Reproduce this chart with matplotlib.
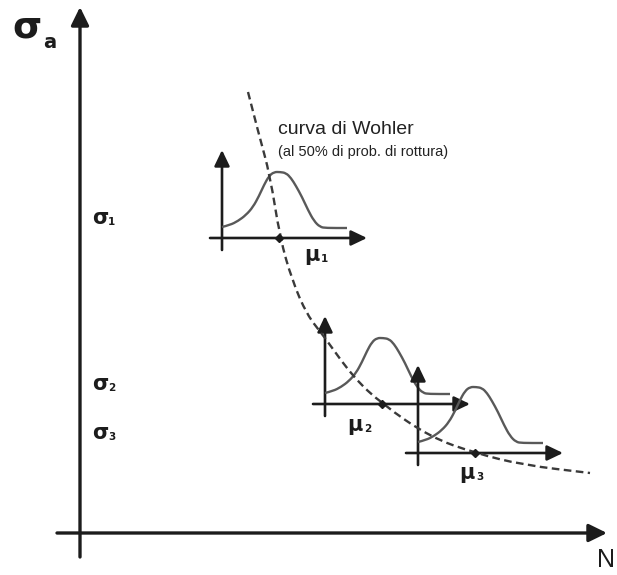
import matplotlib
matplotlib.use('Agg')
import matplotlib.pyplot as plt
from matplotlib.path import Path
from matplotlib.patches import PathPatch
import numpy as np

plt.rcParams['lines.scale_dashes'] = False

# stress levels and mean lives (50% failure) of the three test series
stress_levels = [295, 129, 80]
mean_lives = [199, 302, 395]
sigma_labels = ['1', '2', '3']

# Wohler curve read as (life, stress) points
wohler_n = [168, 179, 190, 200, 212, 227, 243, 273, 302, 350, 395, 443, 510]
wohler_s = [441, 398, 358, 295, 253, 218, 198, 156, 129, 96, 80, 68, 60]

# scatter of life at one stress level: density profile, relative to the
# small axes origin of each series
density_dx = [0, 8, 16, 24, 31, 37, 42, 47, 52, 58, 64, 69, 74, 80, 86, 92,
              98, 104, 125]
density_dy = [11, 13, 17, 23, 31, 42, 53, 62, 66, 66, 65, 60, 52, 41, 28, 17,
              11, 10, 10]

AX_COL = '#1c1c1c'
CURVE_COL = '#595959'
DASH_COL = '#3a3a3a'


def smooth_path(xs, ys):
    # quadratic Bezier pieces with the read points as control points
    pts = list(zip(xs, ys))
    verts = [pts[0]]
    codes = [Path.MOVETO]
    for i in range(1, len(pts) - 1):
        mid = ((pts[i][0] + pts[i + 1][0]) / 2, (pts[i][1] + pts[i + 1][1]) / 2)
        verts += [pts[i], mid]
        codes += [Path.CURVE3, Path.CURVE3]
    verts.append(pts[-1])
    codes.append(Path.LINETO)
    return Path(verts, codes)


def arrow(ax, start, tip, lw, hl, hw):
    ax.annotate('', xy=tip, xytext=start,
                arrowprops=dict(arrowstyle=f'-|>,head_length={hl},head_width={hw}',
                                lw=lw, color=AX_COL, mutation_scale=20,
                                shrinkA=0, shrinkB=0))


fig = plt.figure(figsize=(6.17, 5.75), dpi=100)
ax = fig.add_axes([0, 0, 1, 1])
ax.set_xlim(-80, 537)
ax.set_ylim(-42, 533)
ax.axis('off')

# main axes
arrow(ax, (0, -24), (0, 526), 2.4, 0.55, 0.27)
arrow(ax, (-23, 0), (527, 0), 2.4, 0.55, 0.27)
ax.text(-68, 506, 'σ', fontsize=27, color=AX_COL, ha='left', va='center',
        family='DejaVu Sans', fontweight='bold')
ax.text(-37, 490, 'a', fontsize=14, color=AX_COL, ha='left', va='center',
        family='DejaVu Sans', fontweight='bold')
ax.text(517, -15, 'N', fontsize=18, color=AX_COL, ha='left', va='top',
        family='Liberation Sans')

# Wohler curve
wohler = PathPatch(smooth_path(wohler_n, wohler_s), fill=False,
                   edgecolor=DASH_COL, lw=1.7, zorder=4)
wohler.set_linestyle((0, (5.5, 3.2)))
ax.add_patch(wohler)
ax.text(198, 403, 'curva di Wohler', fontsize=14, color='#222222',
        ha='left', va='center', family='Liberation Sans')
ax.text(198, 381, '(al 50% di prob. di rottura)', fontsize=10.5,
        color='#222222', ha='left', va='center', family='Liberation Sans')

# distribution of lives at each stress level
mu_label_offsets = [(33, -17), (-27, -21), (-8, -20)]
dx = np.array(density_dx)
dy = np.array(density_dy)
for s, mu, lab, (ox, oy) in zip(stress_levels, mean_lives, sigma_labels,
                                mu_label_offsets):
    x0 = mu - 57
    arrow(ax, (x0, s - 12), (x0, s + 88), 1.9, 0.48, 0.23)
    arrow(ax, (x0 - 12, s), (x0 + 145, s), 1.9, 0.48, 0.23)
    ax.add_patch(PathPatch(smooth_path(x0 + dx, s + dy), fill=False,
                           edgecolor=CURVE_COL, lw=1.7, zorder=3))
    ax.plot([mu], [s], marker='D', ms=4, color=AX_COL, zorder=5)
    ax.text(mu + ox, s + oy, 'μ', fontsize=15, color=AX_COL, ha='center',
            va='center', family='DejaVu Sans', fontweight='bold')
    ax.text(mu + ox + 9, s + oy - 4, lab, fontsize=7.5, color=AX_COL,
            ha='left', va='center', family='DejaVu Sans', fontweight='bold')
    ax.text(12, s + 20, 'σ', fontsize=15, color=AX_COL, ha='left',
            va='center', family='DejaVu Sans', fontweight='bold')
    ax.text(28, s + 16, lab, fontsize=7.5, color=AX_COL, ha='left',
            va='center', family='DejaVu Sans', fontweight='bold')

fig.savefig('out.png', dpi=100)
